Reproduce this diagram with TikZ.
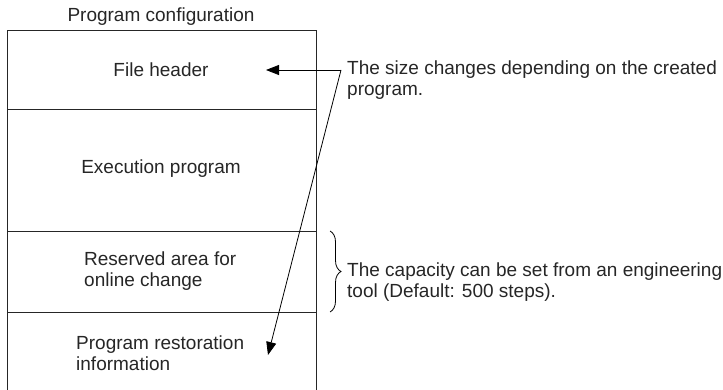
\documentclass[tikz,border=0pt]{standalone}
\usepackage{fontspec}
\setmainfont{Liberation Sans}
\usetikzlibrary{arrows.meta,decorations.pathreplacing}
\begin{document}
\begin{tikzpicture}[x=1pt,y=-1pt,
  every node/.style={font=\fontsize{19}{21}\selectfont,text=black!85,inner sep=0pt},
  frame/.style={line width=0.9pt,black!85},
  pointer/.style={line width=0.8pt,-{Triangle[length=13pt,width=10pt]}},
  block/.style={align=left}]
  \useasboundingbox (0,0) rectangle (723,390);
  % memory layout
  \draw[frame] (7,390) -- (7,30) -- (316,30) -- (316,390);
  \draw[frame] (7,109) -- (316,109);
  \draw[frame] (7,231) -- (316,231);
  \draw[frame] (7,312) -- (316,312);
  \node (title) at (161,17) {Program configuration};
  \node (header) at (161,70) {File header};
  \node (exec) at (161,169) {Execution program};
  \node[block,anchor=west] (reserved) at (84,271) {Reserved area for\\online change};
  \node[block,anchor=west] (restore) at (76,353) {Program restoration\\information};
  % notes
  \coordinate (apex) at (341,70);
  \coordinate (headtip) at (266,70);
  \coordinate (restoretip) at (268,355);
  \draw[pointer] (apex) -- (headtip);
  \draw[pointer] (apex) -- (restoretip);
  \node[block,anchor=west] (sizenote) at (347,80.5)
    {The size changes depending on the created\\program.};
  \draw[line width=0.8pt,decorate,decoration={brace,amplitude=11pt}]
    (330,231) -- (330,312);
  \node[block,anchor=west] (capnote) at (347,282)
    {The capacity can be set from an engineering\\tool (Default: 500 steps).};
\end{tikzpicture}
\end{document}
